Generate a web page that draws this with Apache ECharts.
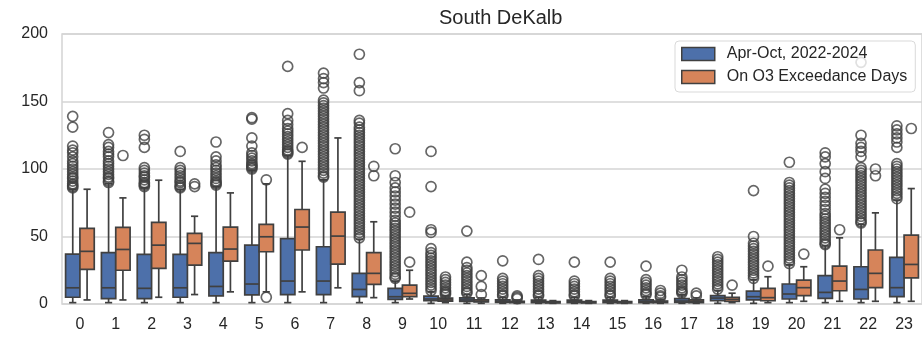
<!DOCTYPE html>
<html>
<head>
<meta charset="utf-8">
<script src="https://cdn.jsdelivr.net/npm/echarts@6/dist/echarts.min.js"></script>
<style>
  html, body { margin: 0; padding: 0; background: #fff; }
  #chart { width: 922px; height: 340px; }
</style>
</head>
<body>
<div id="chart"></div>
<script>
const hours = ["0","1","2","3","4","5","6","7","8","9","10","11","12","13","14","15","16","17","18","19","20","21","22","23"];
const yTicks = [0, 50, 100, 150, 200];
const seriesNames = ["Apr-Oct, 2022-2024", "On O3 Exceedance Days"];

// [whisker low, Q1, median, Q3, whisker high] per hour
const allDaysBox = [
  [1, 5, 12, 37, 85], [1, 4, 12, 38, 89], [1, 4, 11.6, 36.7, 86], [1, 5, 12, 36.7, 85],
  [1, 6, 13, 38, 87], [1, 6.7, 14.8, 43.6, 99], [1, 7, 17, 48.5, 110], [1, 7, 17, 42.4, 92],
  [1, 5.4, 10.8, 22.7, 48], [1, 3.5, 5.4, 11.6, 17], [0.5, 2.4, 3.7, 5.9, 9], [0.5, 2, 3, 4.5, 7],
  [0.5, 1.2, 2, 3, 5], [0.5, 1, 1.8, 2.8, 5], [0.5, 1, 1.8, 2.8, 5], [0.5, 1, 1.8, 2.8, 5],
  [0.5, 1, 1.8, 3, 5.5], [0.5, 1.2, 2.2, 4, 7], [0.5, 2.5, 4.4, 6.2, 10], [0.5, 3, 5.4, 9.6, 18],
  [1, 3.7, 7.4, 14.8, 29], [1, 4.2, 8.6, 21, 43], [1, 3.7, 10.8, 27.6, 59], [1, 5.4, 12.1, 34.5, 77]
];
const exceedBox = [
  [3, 25.6, 39, 56, 85], [3, 25, 40.4, 56.7, 78.6], [5, 26.4, 43.6, 60.4, 91.7], [7, 28.8, 44.9, 52.3, 65],
  [9, 31.8, 40.7, 57, 82.3], [9, 38.7, 49.8, 59, 89], [9, 40, 57, 70, 105.7], [12, 29.6, 50.3, 68, 123],
  [4.7, 14.5, 22.7, 38, 60.9], [3.7, 5.4, 7.9, 14, 25], [1, 2.2, 3, 4.4, 6], [0.5, 1.5, 2, 3, 4.5],
  [0.5, 1, 1.5, 2, 3], [0.5, 0.8, 1.2, 1.8, 2.5], [0.5, 0.8, 1.2, 1.8, 2.5], [0.5, 0.8, 1.2, 1.8, 2.5],
  [0.5, 1, 1.5, 2.2, 3.5], [0.5, 1, 2, 3, 4.5], [1, 2, 3.5, 5, 8], [1, 2.4, 4.7, 11.6, 20.2],
  [2, 6.2, 12.1, 17.7, 27.6], [2, 9.8, 17, 28, 49], [2, 12.1, 22.7, 40, 67.5], [2, 19.4, 29.3, 51, 85.5]
];

// outliers per hour
const allDaysOutliers = [
  [139, 131, 117, 114, 112, 109, 106, 104, 102, 100, 98, 96, 94, 93, 91, 89, 88, 87, 86],
  [127, 118, 116, 113, 111, 109, 106, 104, 102, 100, 98, 96, 94, 93, 91, 90],
  [125, 122, 116, 101, 99, 97, 95, 94, 92, 90, 89, 88, 87],
  [113, 101, 99, 97, 95, 93, 91, 90, 88, 87, 86],
  [120, 109, 106, 103, 101, 99, 97, 95, 93, 91, 90, 89, 88],
  [138, 137, 123, 117, 112, 110, 108, 106, 104, 103, 102, 101, 100],
  [176, 141, 136, 133, 130, 128, 126, 124, 122, 120, 118, 116, 114, 113, 112, 111],
  [171, 167, 164, 160, 151, 149, 147, 145, 143, 141, 139, 137, 135, 133, 131, 129, 127, 125, 123, 121,
   119, 117, 115, 113, 111, 109, 107, 105, 103, 101, 99, 97, 95, 94],
  [185, 164, 158, 136, 134, 131, 129, 127, 125, 123, 121, 119, 117, 115, 113, 111, 109, 107, 105, 103,
   101, 99, 97, 95, 93, 91, 89, 87, 85, 83, 81, 79, 77, 75, 73, 71, 69, 67, 65, 63, 61, 59, 57, 55, 53, 51, 49],
  [115, 95, 90, 86, 83, 80, 77, 74, 71, 68, 65, 62, 60, 58, 56, 54, 52, 50, 48, 46, 44, 42, 40, 38, 36,
   34, 32, 30, 28, 26, 24, 22, 20, 19],
  [113, 87, 55, 53, 41, 38, 36, 34, 32, 30, 28, 26, 24, 22, 20, 18, 16, 14, 12, 10],
  [54, 31, 27, 25, 23, 21, 19, 17, 15, 13, 11, 9, 8],
  [32, 19, 17, 15, 13, 11, 9, 7, 6],
  [33, 21, 19, 17, 15, 13, 11, 9, 7, 6],
  [31, 17, 15, 13, 11, 9, 7, 6],
  [31, 19, 17, 15, 13, 11, 9, 7, 6],
  [28, 18, 16, 14, 12, 10, 8, 7],
  [25, 20, 18, 16, 14, 12, 10, 9, 8],
  [35, 33, 31, 29, 27, 25, 23, 21, 19, 17, 15, 13, 11],
  [84, 50, 45, 43, 41, 39, 37, 35, 33, 31, 29, 27, 25, 23, 21, 19],
  [105, 90, 88, 86, 84, 82, 80, 78, 76, 74, 72, 70, 68, 66, 64, 62, 60, 58, 56, 54, 52, 50, 48, 46, 44,
   42, 40, 38, 36, 34, 32, 30],
  [112, 109, 104, 98, 93, 85, 82, 79, 76, 73, 70, 67, 65, 63, 61, 59, 57, 55, 53, 51, 49, 47, 45, 44],
  [179, 125, 119, 116, 113, 109, 101, 99, 97, 95, 93, 91, 89, 87, 85, 83, 81, 79, 77, 75, 73, 71, 69,
   67, 65, 63, 61, 60],
  [132, 129, 126, 123, 120, 116, 104, 102, 100, 98, 96, 94, 92, 90, 88, 86, 84, 82, 80, 78]
];
const exceedOutliers = [
  [], [110], [], [89, 87], [], [92, 5], [116], [], [102, 95], [68, 31],
  [20, 18, 16, 14, 12, 10, 9, 8, 7], [21, 13, 7], [6, 5, 4], [], [], [],
  [10, 8, 6, 5], [8, 6], [14], [28], [37], [55], [100, 95], [130]
];

const blue = "#4d70aa";
const orange = "#d6845a";
const edge = "#404040";
const font = "'Liberation Sans', Arial, sans-serif";

const boxRows = (box) => box.map((b, i) => [i].concat(b));
const outlierRows = (out) => {
  const rows = [];
  out.forEach((vals, i) => vals.forEach((v) => rows.push([i, v])));
  return rows;
};

const boxRenderer = (side, fill) => (params, api) => {
  const i = api.value(0);
  const band = api.size([1, 0])[0];
  const w = band * 0.4;
  const cx = api.coord([i, 0])[0];
  const x0 = side < 0 ? cx - w : cx;
  const xm = x0 + w / 2;
  const y = (k) => api.coord([i, api.value(k)])[1];
  const yMin = y(1), yQ1 = y(2), yMed = y(3), yQ3 = y(4), yMax = y(5);
  const ls = { stroke: edge, lineWidth: 1.7 };
  const cap = w / 4;
  return {
    type: "group",
    children: [
      { type: "line", shape: { x1: xm, y1: yQ1, x2: xm, y2: yMin }, style: ls },
      { type: "line", shape: { x1: xm, y1: yQ3, x2: xm, y2: yMax }, style: ls },
      { type: "line", shape: { x1: xm - cap, y1: yMin, x2: xm + cap, y2: yMin }, style: ls },
      { type: "line", shape: { x1: xm - cap, y1: yMax, x2: xm + cap, y2: yMax }, style: ls },
      { type: "rect", shape: { x: x0, y: yQ3, width: w, height: yQ1 - yQ3 },
        style: { fill: fill, stroke: edge, lineWidth: 1.7 } },
      { type: "line", shape: { x1: x0, y1: yMed, x2: x0 + w, y2: yMed }, style: ls },
    ],
  };
};

const outlierStyle = {
  color: "rgba(0,0,0,0)",
  borderColor: edge,
  borderWidth: 1.7,
};

const chart = echarts.init(document.getElementById("chart"), null, { renderer: "canvas" });
chart.setOption({
  animation: false,
  textStyle: { fontFamily: font },
  title: {
    text: "South DeKalb",
    left: 434,
    top: 3,
    textStyle: { fontFamily: font, fontSize: 20, fontWeight: "normal", color: "#262626" },
  },
  legend: {
    orient: "vertical",
    left: 675,
    top: 41,
    padding: [5, 8, 7, 6],
    itemWidth: 33,
    itemHeight: 13,
    itemGap: 7,
    borderColor: "#d9d9d9",
    borderWidth: 1,
    borderRadius: 4,
    backgroundColor: "rgba(255,255,255,0.8)",
    textStyle: { fontFamily: font, fontSize: 16, color: "#262626", padding: [0, 0, 0, 7] },
    data: [
      { name: seriesNames[0], icon: "rect", itemStyle: { color: blue, borderColor: edge, borderWidth: 1.5 } },
      { name: seriesNames[1], icon: "rect", itemStyle: { color: orange, borderColor: edge, borderWidth: 1.5 } },
    ],
  },
  grid: {
    left: 62,
    right: -7,
    top: 34,
    bottom: 36,
    show: true,
    borderColor: "#d4d4d4",
    borderWidth: 1.5,
  },
  xAxis: {
    type: "category",
    data: hours,
    axisLine: { show: false },
    axisTick: { show: false },
    axisLabel: { fontFamily: font, fontSize: 16, color: "#262626", margin: 13 },
  },
  yAxis: {
    type: "value",
    min: yTicks[0],
    max: yTicks[yTicks.length - 1],
    interval: 50,
    axisLine: { show: false },
    axisTick: { show: false },
    axisLabel: { fontFamily: font, fontSize: 16, color: "#262626", margin: 14 },
    splitLine: { lineStyle: { color: "#d4d4d4", width: 1.5 } },
  },
  series: [
    {
      name: seriesNames[0],
      type: "custom",
      renderItem: boxRenderer(-1, blue),
      itemStyle: { color: blue },
      encode: { x: 0, y: [1, 2, 3, 4, 5] },
      data: boxRows(allDaysBox),
      z: 2,
    },
    {
      name: seriesNames[0],
      type: "scatter",
      symbol: "circle",
      symbolSize: 10,
      symbolOffset: [-7.22, 0],
      itemStyle: outlierStyle,
      data: outlierRows(allDaysOutliers),
      z: 3,
    },
    {
      name: seriesNames[1],
      type: "custom",
      renderItem: boxRenderer(1, orange),
      itemStyle: { color: orange },
      encode: { x: 0, y: [1, 2, 3, 4, 5] },
      data: boxRows(exceedBox),
      z: 2,
    },
    {
      name: seriesNames[1],
      type: "scatter",
      symbol: "circle",
      symbolSize: 10,
      symbolOffset: [7.22, 0],
      itemStyle: outlierStyle,
      data: outlierRows(exceedOutliers),
      z: 3,
    },
  ],
});
</script>
</body>
</html>
